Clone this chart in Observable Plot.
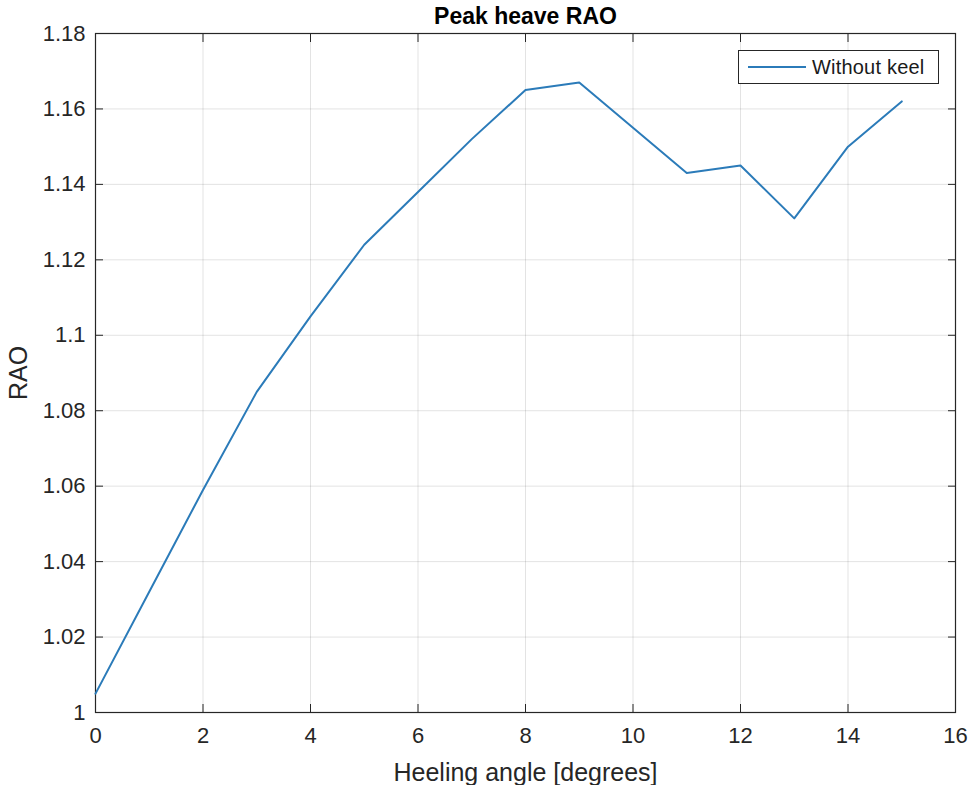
<!DOCTYPE html>
<html>
<head>
<meta charset="utf-8">
<script src="https://cdn.jsdelivr.net/npm/d3@7"></script>
<script src="https://cdn.jsdelivr.net/npm/@observablehq/plot@0.6"></script>
<style>
  html, body { margin: 0; padding: 0; background: #fff; }
  #wrap { position: relative; width: 970px; height: 785px; font-family: "Liberation Sans", Arial, Helvetica, sans-serif; }
  #legend { position: absolute; left: 738px; top: 50px; width: 201px; height: 34px; border: 1px solid #262626; background: #fff; display: flex; align-items: center; box-sizing: border-box; }
  #legend svg { margin-left: 9px; }
  #legend span { margin-left: 6px; font-size: 20px; color: #1a1a1a; letter-spacing: 0.2px; }
</style>
</head>
<body>
<div id="wrap"><div id="legend"><svg width="58" height="6"><line x1="0" x2="58" y1="3" y2="3" stroke="#2b7bb9" stroke-width="2"/></svg><span>Without keel</span></div></div>
<script>
const title = "Peak heave RAO";
const xLabel = "Heeling angle [degrees]";
const yLabel = "RAO";
const seriesName = "Without keel";
const heelAngle = [0, 1, 2, 3, 4, 5, 6, 7, 8, 9, 10, 11, 12, 13, 14, 15];
const rao = [1.005, 1.032, 1.059, 1.085, 1.105, 1.124, 1.138, 1.152, 1.165, 1.167, 1.155, 1.143, 1.145, 1.131, 1.150, 1.162];
const xTicks = [0, 2, 4, 6, 8, 10, 12, 14, 16];
const yTicks = [1, 1.02, 1.04, 1.06, 1.08, 1.1, 1.12, 1.14, 1.16, 1.18];

const data = heelAngle.map((x, i) => ({x, y: rao[i]}));
const fmt = d => String(+d.toFixed(2));
const axisColor = "#262626";

const chart = Plot.plot({
  width: 970,
  height: 785,
  marginLeft: 95,
  marginRight: 15,
  marginTop: 33,
  marginBottom: 73,
  style: {fontFamily: '"Liberation Sans", Arial, Helvetica, sans-serif', color: axisColor, background: "#fff"},
  x: {domain: [0, 16]},
  y: {domain: [1, 1.18]},
  marks: [
    Plot.gridX(xTicks, {stroke: "#262626", strokeOpacity: 0.13}),
    Plot.gridY(yTicks, {stroke: "#262626", strokeOpacity: 0.13}),
    Plot.axisX(xTicks, {anchor: "bottom", tickSize: 0, tickPadding: 15, tickFormat: fmt, fontSize: 22, label: xLabel, labelAnchor: "center", labelArrow: "none", labelOffset: 68}),
    Plot.axisY(yTicks, {anchor: "left", tickSize: 0, tickPadding: 10, tickFormat: fmt, fontSize: 22, label: yLabel, labelAnchor: "center", labelArrow: "none", labelOffset: 86}),
    Plot.axisX(xTicks, {anchor: "bottom", tickSize: -8, tickFormat: () => "", label: null, stroke: axisColor}),
    Plot.axisX(xTicks, {anchor: "top", tickSize: -8, tickFormat: () => "", label: null, stroke: axisColor}),
    Plot.axisY(yTicks, {anchor: "left", tickSize: -8, tickFormat: () => "", label: null, stroke: axisColor}),
    Plot.axisY(yTicks, {anchor: "right", tickSize: -8, tickFormat: () => "", label: null, stroke: axisColor}),
    Plot.frame({stroke: axisColor, strokeWidth: 1.2}),
    Plot.line(data, {x: "x", y: "y", stroke: "#2b7bb9", strokeWidth: 2}),
    Plot.text([title], {frameAnchor: "top", lineAnchor: "middle", dy: -17, fontSize: 23, fontWeight: "bold", fill: "#000"})
  ]
});
document.getElementById("wrap").prepend(chart);
d3.select(chart).selectAll("[aria-label='x-axis label'] text, [aria-label='y-axis label'] text").style("font-size", "25px");
</script>
</body>
</html>
